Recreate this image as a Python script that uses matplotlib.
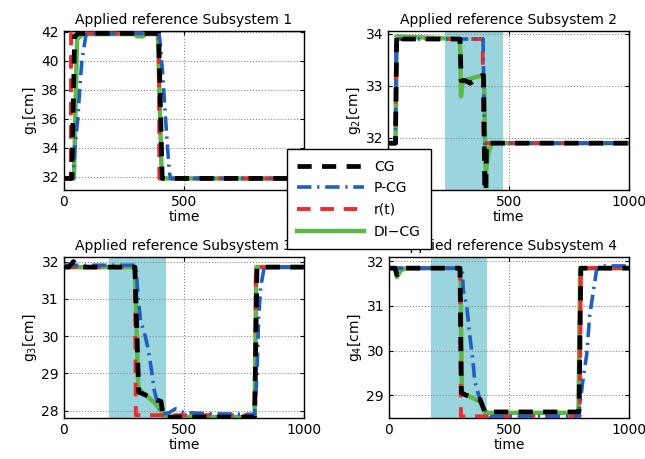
import matplotlib
matplotlib.use("Agg")
import matplotlib.pyplot as plt
from matplotlib.lines import Line2D

# ---- data (breakpoints) ----
# Subsystem 1
g1_cg_t = [0, 33, 45, 60, 395, 410, 1000]
g1_cg = [31.9, 31.9, 41.7, 41.9, 41.9, 31.9, 31.9]
g1_pcg_t = [0, 38, 46, 58, 66, 75, 92, 100, 395, 400, 410, 420, 430, 440, 445, 1000]
g1_pcg = [31.9, 31.9, 34.0, 36.0, 38.0, 40.0, 41.8, 41.9, 41.9, 41.5, 39.5, 37.0, 34.5, 32.3, 31.9, 31.9]
g1_r_t = [0, 29, 30, 396, 398, 1000]
g1_r = [31.9, 31.9, 41.9, 41.9, 31.9, 31.9]
g1_di_t = [0, 42, 55, 80, 295, 305, 330, 340, 392, 408, 1000]
g1_di = [31.9, 31.9, 41.5, 41.85, 41.85, 41.7, 41.7, 41.85, 41.85, 31.9, 31.9]

# Subsystem 2
g2_cg_t = [0, 30, 35, 45, 60, 298, 303, 320, 340, 390, 396, 402, 405, 408, 1000]
g2_cg = [31.9, 31.9, 33.95, 34.0, 33.9, 33.9, 33.1, 33.1, 33.05, 33.2, 33.2, 30.5, 30.5, 31.9, 31.9]
g2_pcg_t = [0, 30, 33, 394, 400, 415, 430, 1000]
g2_pcg = [31.9, 31.9, 33.9, 33.9, 31.9, 31.85, 31.9, 31.9]
g2_r_t = [0, 30, 32, 392, 396, 1000]
g2_r = [31.9, 31.9, 33.9, 33.9, 31.9, 31.9]
g2_di_t = [0, 30, 35, 298, 302, 310, 350, 390, 398, 405, 415, 430, 1000]
g2_di = [31.9, 31.9, 33.95, 33.9, 32.8, 33.1, 33.15, 33.2, 33.1, 31.3, 31.7, 31.9, 31.9]

# Subsystem 3
g3_cg_t = [0, 20, 40, 60, 296, 312, 330, 380, 405, 415, 795, 805, 1000]
g3_cg = [31.85, 31.85, 32.0, 31.85, 31.85, 28.5, 28.45, 28.3, 28.25, 27.83, 27.83, 31.85, 31.85]
g3_pcg_t = [0, 300, 310, 320, 335, 350, 365, 375, 390, 410, 440, 465, 500, 600, 795, 805, 812, 820, 835, 1000]
g3_pcg = [31.9, 31.9, 31.0, 30.4, 30.1, 29.7, 29.1, 28.6, 28.2, 27.9, 27.95, 28.05, 27.95, 27.92, 27.9, 29.0, 30.5, 31.3, 31.85, 31.85]
g3_r_t = [0, 296, 300, 796, 800, 1000]
g3_r = [31.85, 31.85, 27.88, 27.88, 31.85, 31.85]
g3_di_t = [0, 296, 310, 380, 405, 420, 795, 802, 1000]
g3_di = [31.85, 31.85, 28.6, 28.2, 28.0, 27.83, 27.83, 31.85, 31.85]

# Subsystem 4
g4_cg_t = [0, 25, 33, 50, 70, 296, 302, 320, 380, 400, 792, 800, 1000]
g4_cg = [31.85, 31.85, 31.7, 31.8, 31.85, 31.85, 29.05, 29.0, 28.9, 28.62, 28.62, 31.85, 31.85]
g4_pcg_t = [0, 305, 310, 324, 337, 351, 358, 379, 407, 421, 790, 810, 824, 837, 851, 865, 879, 1000]
g4_pcg = [31.85, 31.85, 31.34, 31.0, 30.35, 29.7, 29.3, 28.9, 28.6, 28.52, 28.52, 29.4, 29.9, 30.8, 31.3, 31.8, 31.9, 31.9]
g4_r_t = [0, 296, 300, 795, 800, 1000]
g4_r = [31.85, 31.85, 28.52, 28.52, 31.85, 31.85]
g4_di_t = [0, 28, 33, 50, 70, 298, 304, 380, 400, 790, 797, 1000]
g4_di = [31.85, 31.85, 31.65, 31.8, 31.85, 31.85, 29.05, 28.85, 28.6, 28.6, 31.85, 31.85]

titles = ["Applied reference Subsystem 1", "Applied reference Subsystem 2",
          "Applied reference Subsystem 3", "Applied reference Subsystem 4"]
ylabels = ["g$_1$[cm]", "g$_2$[cm]", "g$_3$[cm]", "g$_4$[cm]"]
ylims = [(31.1, 42.05), (31.0, 34.05), (27.8, 32.12), (28.48, 32.1)]
yticks = [[32, 34, 36, 38, 40, 42], [32, 33, 34], [28, 29, 30, 31, 32], [29, 30, 31, 32]]
shades = [None, (235, 478), (187, 425), (175, 408)]
legend_labels = ["CG", "P-CG", "r(t)", "DI\u2212CG"]

series = [
    (g1_cg_t, g1_cg, g1_pcg_t, g1_pcg, g1_r_t, g1_r, g1_di_t, g1_di),
    (g2_cg_t, g2_cg, g2_pcg_t, g2_pcg, g2_r_t, g2_r, g2_di_t, g2_di),
    (g3_cg_t, g3_cg, g3_pcg_t, g3_pcg, g3_r_t, g3_r, g3_di_t, g3_di),
    (g4_cg_t, g4_cg, g4_pcg_t, g4_pcg, g4_r_t, g4_r, g4_di_t, g4_di),
]

C_CG = "black"
C_PCG = "#1f5fbf"
C_R = "#ee2b2b"
C_DI = "#5cb947"
C_SHADE = "#9ad5de"

fig = plt.figure(figsize=(6.45, 4.59), dpi=100)
positions = [
    [0.099, 0.586, 0.372, 0.346],
    [0.602, 0.586, 0.373, 0.346],
    [0.099, 0.089, 0.372, 0.351],
    [0.603, 0.089, 0.372, 0.351],
]

for i in range(4):
    ax = fig.add_axes(positions[i])
    cg_t, cg, p_t, p, r_t, r, d_t, d = series[i]
    if shades[i] is not None:
        ax.axvspan(shades[i][0], shades[i][1], color=C_SHADE, lw=0, zorder=0)
    ax.plot(d_t, d, color=C_DI, lw=3.2, zorder=2)
    ax.plot(r_t, r, color=C_R, lw=2.8, dashes=(3.5, 2.5), zorder=3)
    ax.plot(p_t, p, color=C_PCG, lw=2.6, dashes=(4, 1.6, 0.6, 1.6), zorder=4)
    ax.plot(cg_t, cg, color=C_CG, lw=3.4, dashes=(3, 2.2), zorder=5)
    ax.set_xlim(0, 1000)
    ax.set_ylim(*ylims[i])
    ax.set_xticks([0, 500, 1000])
    ax.set_yticks(yticks[i])
    ax.grid(True, linestyle=":", color="#888888", lw=0.8)
    ax.tick_params(direction="in", length=3, labelsize=10, top=True, right=True)
    ax.set_title(titles[i], fontsize=10, pad=5)
    ax.set_xlabel("time", fontsize=10, labelpad=1)
    ax.set_ylabel(ylabels[i], fontsize=10, labelpad=2)
    for s in ax.spines.values():
        s.set_linewidth(1.0)

handles = [
    Line2D([], [], color=C_CG, lw=3.4, dashes=(3, 2.2)),
    Line2D([], [], color=C_PCG, lw=2.6, dashes=(4, 1.6, 0.6, 1.6)),
    Line2D([], [], color=C_R, lw=2.8, dashes=(3.5, 2.5)),
    Line2D([], [], color=C_DI, lw=3.2),
]
leg = fig.legend(handles, legend_labels, loc="upper left", bbox_to_anchor=(0.445, 0.675),
                 borderaxespad=0, fontsize=10, fancybox=False, framealpha=1,
                 edgecolor="black", handlelength=4.8, handletextpad=0.7,
                 borderpad=0.75, labelspacing=0.55)
leg.get_frame().set_linewidth(1.0)

fig.savefig("out.png", dpi=100)
